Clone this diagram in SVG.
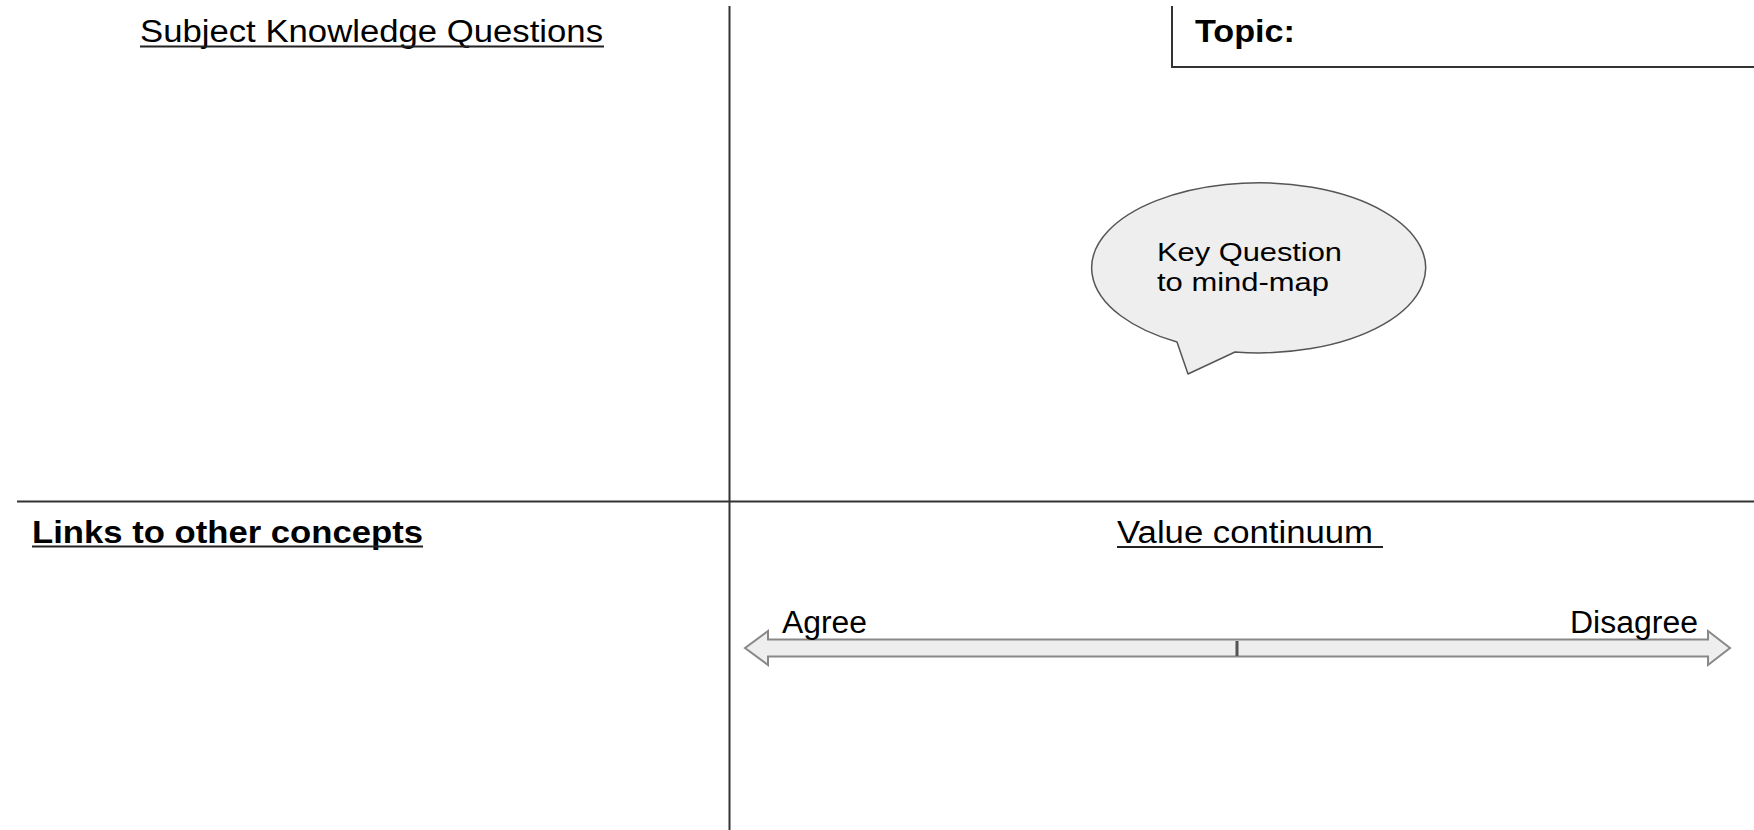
<svg xmlns="http://www.w3.org/2000/svg" width="1754" height="830" viewBox="0 0 1754 830">
<style>
.t{font-family:"Liberation Sans",Arial,sans-serif;fill:#000}
.h{font-size:31px}
.b{font-weight:bold}
.ul{stroke:#222;stroke-width:2}
.frame{stroke:#333;stroke-width:2;fill:none}
</style>
<rect width="1754" height="830" fill="#fff"/>
<g id="frame">
<line class="frame" x1="729.5" y1="6" x2="729.5" y2="830"/>
<line class="frame" x1="17" y1="501.5" x2="1754" y2="501.5"/>
</g>
<g id="topic">
<path class="frame" d="M1172 6 V67 H1754"/>
<text class="t h b" x="1195" y="42" textLength="100" lengthAdjust="spacingAndGlyphs">Topic:</text>
</g>
<g id="subject-knowledge">
<text class="t h" x="140" y="42" textLength="463" lengthAdjust="spacingAndGlyphs">Subject Knowledge Questions</text>
<line class="ul" x1="140" y1="46.5" x2="604" y2="46.5"/>
</g>
<g id="key-question">
<path d="M1177 342 A167 85 0 1 1 1235 352 L1188 374 Z" fill="#eeeeee" stroke="#555" stroke-width="1.5" stroke-linejoin="round"/>
<text class="t" style="font-size:26px" x="1157" y="261" textLength="185" lengthAdjust="spacingAndGlyphs">Key Question</text>
<text class="t" style="font-size:26px" x="1157" y="291" textLength="172" lengthAdjust="spacingAndGlyphs">to mind-map</text>
</g>
<g id="links">
<text class="t h b" x="32" y="543" textLength="391" lengthAdjust="spacingAndGlyphs">Links to other concepts</text>
<line class="ul" x1="32" y1="546.5" x2="423" y2="546.5"/>
</g>
<g id="value-continuum">
<text class="t h" x="1117" y="543" textLength="256" lengthAdjust="spacingAndGlyphs">Value continuum</text>
<line class="ul" x1="1117" y1="547" x2="1383" y2="547"/>
</g>
<g id="connectors">
<path d="M745 648 L768 631 V639.5 H1708 V631 L1730 648 L1708 665 V656.5 H768 V665 Z" fill="#eeeeee" stroke="#888" stroke-width="2" stroke-linejoin="miter"/>
<line x1="1237" y1="641" x2="1237" y2="656" stroke="#555" stroke-width="3"/>
</g>
<g id="agree">
<text class="t h" x="782" y="633" textLength="85" lengthAdjust="spacingAndGlyphs">Agree</text>
</g>
<g id="disagree">
<text class="t h" x="1570" y="633" textLength="128" lengthAdjust="spacingAndGlyphs">Disagree</text>
</g>
</svg>
